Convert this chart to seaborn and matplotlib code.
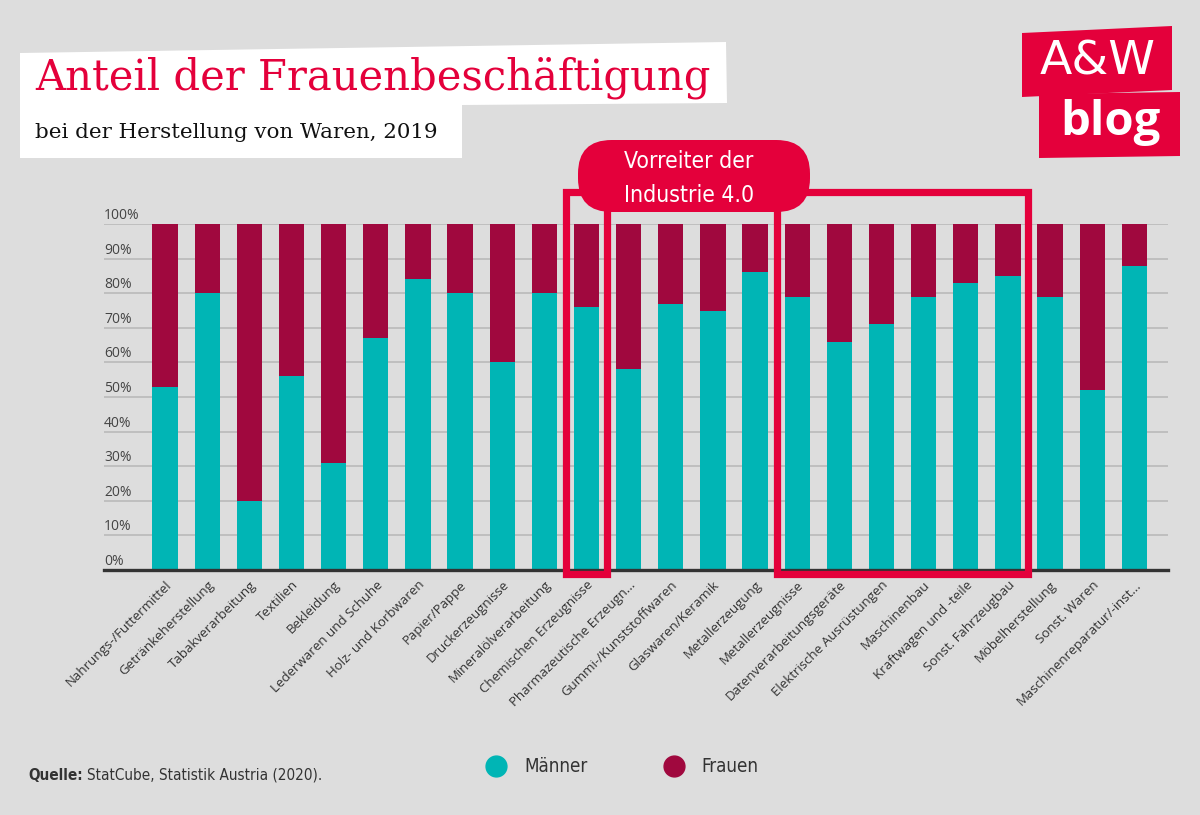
import matplotlib
matplotlib.use("Agg")
import matplotlib.pyplot as plt
from matplotlib.patches import Polygon, FancyBboxPatch, Rectangle
from matplotlib.lines import Line2D
import matplotlib.transforms as mtransforms
import pandas as pd
import seaborn as sns

# data (share of employment in %, 2019)
categories = [
    "Nahrungs-/Futtermittel", "Getränkeherstellung", "Tabakverarbeitung", "Textilien",
    "Bekleidung", "Lederwaren und Schuhe", "Holz- und Korbwaren", "Papier/Pappe",
    "Druckerzeugnisse", "Mineralölverarbeitung", "Chemischen Erzeugnisse",
    "Pharmazeutische Erzeugn...", "Gummi-/Kunststoffwaren", "Glaswaren/Keramik",
    "Metallerzeugung", "Metallerzeugnisse", "Datenverarbeitungsgeräte",
    "Elektrische Ausrüstungen", "Maschinenbau", "Kraftwagen und -teile",
    "Sonst. Fahrzeugbau", "Möbelherstellung", "Sonst. Waren", "Maschinenreparatur/-inst...",
]
maenner = [53, 80, 20, 56, 31, 67, 84, 80, 60, 80, 76, 58,
           77, 75, 86, 79, 66, 71, 79, 83, 85, 79, 52, 88]
frauen = [47, 20, 80, 44, 69, 33, 16, 20, 40, 20, 24, 42,
          23, 25, 14, 21, 34, 29, 21, 17, 15, 21, 48, 12]
yticks = [0, 10, 20, 30, 40, 50, 60, 70, 80, 90, 100]
highlight_groups = [("Chemischen Erzeugnisse", "Chemischen Erzeugnisse"),
                    ("Metallerzeugnisse", "Sonst. Fahrzeugbau")]

BG = "#dddddd"
TEAL = "#00b5b5"
MAROON = "#a0083e"
RED = "#e4003b"
NARROW = ["DejaVu Sans"]

df = pd.DataFrame({"Branche": categories, "Männer": maenner, "Frauen": frauen})
df["Gesamt"] = df["Männer"] + df["Frauen"]

sns.set_theme(style="white")
plt.rcParams["font.family"] = ["Open Sans", "DejaVu Sans"]

W, H = 1200, 815
fig = plt.figure(figsize=(12, 8.15), dpi=100, facecolor=BG)


def px(x, y):
    return (x / W, 1 - y / H)


ax = fig.add_axes([104 / W, 1 - 570 / H, 1064 / W, 346 / H])
ax.set_facecolor(BG)

sns.barplot(data=df, x="Branche", y="Gesamt", color=MAROON, width=0.6,
            saturation=1, linewidth=0, ax=ax, zorder=2)
sns.barplot(data=df, x="Branche", y="Männer", color=TEAL, width=0.6,
            saturation=1, linewidth=0, ax=ax, zorder=3)

ax.set_xlim(-1.45, 23.8)
ax.set_ylim(0, 100)
ax.set_xlabel("")
ax.set_ylabel("")
for y in yticks:
    ax.axhline(y, color="#bcbcbc", lw=1.3, zorder=1)
ax.set_yticks([])
trans = mtransforms.blended_transform_factory(ax.transAxes, ax.transData)
for y in yticks:
    ax.text(0, y + 0.3, f"{y}%", transform=trans, ha="left", va="bottom",
            fontsize=10, color="#444444")

for s in ["top", "right", "left"]:
    ax.spines[s].set_visible(False)
ax.spines["bottom"].set_color("#333333")
ax.spines["bottom"].set_linewidth(2.4)
ax.spines["bottom"].set_zorder(5)

ax.tick_params(axis="x", length=0, pad=6)
ax.set_xticks(range(len(categories)))
ax.set_xticklabels(categories, rotation=45, ha="right", va="top",
                   rotation_mode="anchor", fontsize=9.5, color="#333333")

# highlight boxes
for first, last in highlight_groups:
    i0, i1 = categories.index(first), categories.index(last)
    ax.add_patch(Rectangle((i0 - 0.48, -1.1), i1 - i0 + 0.96, 110.4, fill=False,
                           edgecolor=RED, lw=5.2, clip_on=False, zorder=6))

# bubble
bx0, by0 = px(578, 212)
bx1, by1 = px(810, 140)
bubble = FancyBboxPatch((bx0, by0), bx1 - bx0, by1 - by0,
                        boxstyle="round,pad=0,rounding_size=0.028",
                        mutation_aspect=W / H, transform=fig.transFigure,
                        facecolor=RED, edgecolor="none", zorder=10)
fig.patches.append(bubble)
fig.text(*px(689, 161), "Vorreiter der", ha="center", va="center", color="white",
         fontsize=16.5, family=NARROW, fontstretch="condensed", zorder=11)
fig.text(*px(689, 196), "Industrie 4.0", ha="center", va="center", color="white",
         fontsize=16.5, family=NARROW, fontstretch="condensed", zorder=11)

# title boxes
title_box = Polygon([px(20, 53), px(726, 42), px(727, 103), px(462, 105),
                     px(462, 158), px(20, 158)], closed=True,
                    transform=fig.transFigure, facecolor="white", edgecolor="none")
fig.patches.append(title_box)
fig.text(*px(35, 78), "Anteil der Frauenbeschäftigung", ha="left", va="center",
         color=RED, fontsize=30, family=["DejaVu Serif"])
fig.text(*px(35, 132), "bei der Herstellung von Waren, 2019", ha="left", va="center",
         color="#111111", fontsize=15.4, family=["DejaVu Serif"])

# logo
logo1 = Polygon([px(1022, 33), px(1172, 26), px(1172, 90), px(1022, 97)], closed=True,
                transform=fig.transFigure, facecolor=RED, edgecolor="none")
logo2 = Polygon([px(1039, 94), px(1180, 92), px(1180, 156), px(1039, 158)], closed=True,
                transform=fig.transFigure, facecolor=RED, edgecolor="none")
fig.patches.extend([logo1, logo2])
fig.text(*px(1098, 62), "A&W", ha="center", va="center", color="white",
         fontsize=34, family=["DejaVu Sans"], fontweight="normal")
fig.text(*px(1110, 122), "blog", ha="center", va="center", color="white",
         fontsize=34, family=["Open Sans", "DejaVu Sans"], fontweight="bold")

# legend
handles = [Line2D([], [], marker="o", ls="", markersize=15, color=TEAL, label="Männer"),
           Line2D([], [], marker="o", ls="", markersize=15, color=MAROON, label="Frauen")]
fig.legend(handles=handles, loc="center", bbox_to_anchor=px(618, 767), ncol=2,
           frameon=False, prop={"family": NARROW, "size": 13.5, "stretch": "condensed"},
           handletextpad=0.5, columnspacing=3.6, labelcolor="#333333")

# source
t = fig.text(*px(28, 775), "Quelle:", ha="left", va="center", color="#333333",
             fontsize=11, family=NARROW, fontstretch="condensed", fontweight="bold")
fig.canvas.draw()
bb = t.get_window_extent()
fig.text(bb.x1 / W + 4 / W, 1 - 775 / H, "StatCube, Statistik Austria (2020).",
         ha="left", va="center", color="#333333", fontsize=11, family=NARROW,
         fontstretch="condensed")

fig.savefig("out.png", dpi=100, facecolor=BG)
